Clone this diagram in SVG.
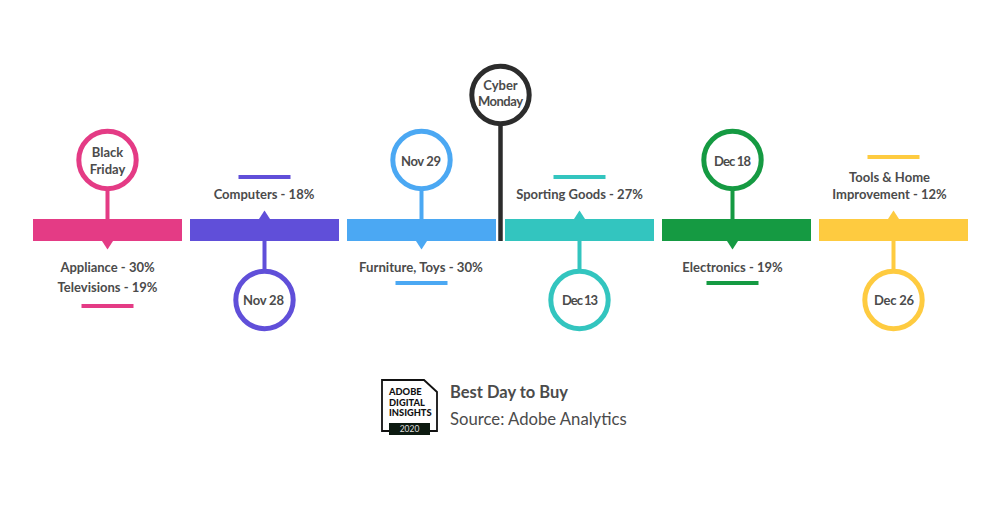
<svg xmlns="http://www.w3.org/2000/svg" width="1000" height="510" viewBox="0 0 1000 510">
<style>
text{font-family:"Lato","Liberation Sans",sans-serif;text-anchor:middle;fill:#4b4b4b;font-size:13px;font-weight:700}
.ring{fill:#fff;stroke-width:5}
.stem{stroke-width:4;fill:none}
.tick{stroke-width:4;fill:none}
.pink{fill:#e43b85}.pinks{stroke:#e43b85}
.purple{fill:#604fd9}.purples{stroke:#604fd9}
.blue{fill:#4ba8f3}.blues{stroke:#4ba8f3}
.teal{fill:#33c5bf}.teals{stroke:#33c5bf}
.green{fill:#159a42}.greens{stroke:#159a42}
.yellow{fill:#fecb40}.yellows{stroke:#fecb40}
.logo{font-size:9.300px;font-weight:900;fill:#111;text-anchor:start}
</style>
<rect width="1000" height="510" fill="#fff"/>
<g id="connectors">
<path class="stem pinks" d="M107.500 188V219"/>
<path class="stem purples" d="M264.500 241V272"/>
<path class="stem blues" d="M421.500 188V219"/>
<path class="stem teals" d="M579.500 241V272"/>
<path class="stem greens" d="M732.500 188V219"/>
<path class="stem yellows" d="M893.500 241V272"/>
<path d="M500.500 123V241" fill="none" stroke="#2c2c2c" stroke-width="4.500"/>
</g>
<g id="bar-black-friday"><rect class="pink" x="33" y="219" width="149" height="22"/><path class="pink" d="M102 241H113L107.500 249.500Z"/></g>
<g id="bar-nov-28"><rect class="purple" x="190" y="219" width="149" height="22"/><path class="purple" d="M259 219H270L264.500 210.500Z"/></g>
<g id="bar-nov-29"><rect class="blue" x="347" y="219" width="149" height="22"/><path class="blue" d="M416 241H427L421.500 249.500Z"/></g>
<g id="bar-dec-13"><rect class="teal" x="505" y="219" width="149" height="22"/><path class="teal" d="M574 219H585L579.500 210.500Z"/></g>
<g id="bar-dec-18"><rect class="green" x="662" y="219" width="149" height="22"/><path class="green" d="M727 241H738L732.500 249.500Z"/></g>
<g id="bar-dec-26"><rect class="yellow" x="819" y="219" width="149" height="22"/><path class="yellow" d="M888 219H899L893.500 210.500Z"/></g>

<g id="node-black-friday"><circle class="ring pinks" cx="107.500" cy="160" r="28.700"/><text x="107.500" y="157">Black</text><text x="107.500" y="174">Friday</text>
<text x="107.500" y="272">Appliance - 30%</text><text x="107.500" y="292">Televisions - 19%</text><path class="tick pinks" d="M81.500 306H133.500"/></g>
<g id="node-nov-28"><circle class="ring purples" cx="264.500" cy="300" r="28.700"/><text x="263.500" y="305" textLength="41">Nov 28</text>
<text x="264" y="199">Computers - 18%</text><path class="tick purples" d="M238.500 177H290.500"/></g>
<g id="node-nov-29"><circle class="ring blues" cx="421.500" cy="160" r="28.700"/><text x="421" y="166" textLength="40">Nov 29</text>
<text x="421" y="272" style="font-size:13.200px">Furniture, Toys - 30%</text><path class="tick blues" d="M395.500 283H447.500"/></g>
<g id="node-cyber-monday"><circle cx="500.500" cy="95" r="28.700" fill="#fff" stroke="#2c2c2c" stroke-width="5"/><text x="500.500" y="90">Cyber</text><text x="500.500" y="106" textLength="45">Monday</text></g>
<g id="node-dec-13"><circle class="ring teals" cx="579.500" cy="300" r="28.700"/><text x="580" y="305" textLength="36">Dec 13</text>
<text x="579.500" y="199">Sporting Goods - 27%</text><path class="tick teals" d="M553.500 177H605.500"/></g>
<g id="node-dec-18"><circle class="ring greens" cx="732.500" cy="160" r="28.700"/><text x="732.500" y="166" textLength="37">Dec 18</text>
<text x="732.500" y="272">Electronics - 19%</text><path class="tick greens" d="M706.500 283H758.500"/></g>
<g id="node-dec-26"><circle class="ring yellows" cx="893.500" cy="300" r="28.700"/><text x="894" y="305" textLength="40">Dec 26</text>
<text x="889.500" y="182">Tools &amp; Home</text><text x="889.500" y="199">Improvement - 12%</text><path class="tick yellows" d="M867.500 157H919.500"/></g>

<g id="legend">
<path d="M382 380H424L437 392V431H382Z" fill="#fff" stroke="#111" stroke-width="1.800"/>
<rect x="389" y="423" width="41" height="12" fill="#0c1a10"/>
<text x="409.500" y="432" style="font-size:8.500px;font-weight:400;fill:#ddd">2020</text>
<text class="logo" x="389" y="395">ADOBE</text>
<text class="logo" x="389" y="405.500">DIGITAL</text>
<text class="logo" x="389" y="416">INSIGHTS</text>
<text x="450" y="398" style="text-anchor:start;font-size:16.500px">Best Day to Buy</text>
<text x="450" y="425" style="text-anchor:start;font-size:16.700px;font-weight:400">Source: Adobe Analytics</text>
</g>
</svg>
